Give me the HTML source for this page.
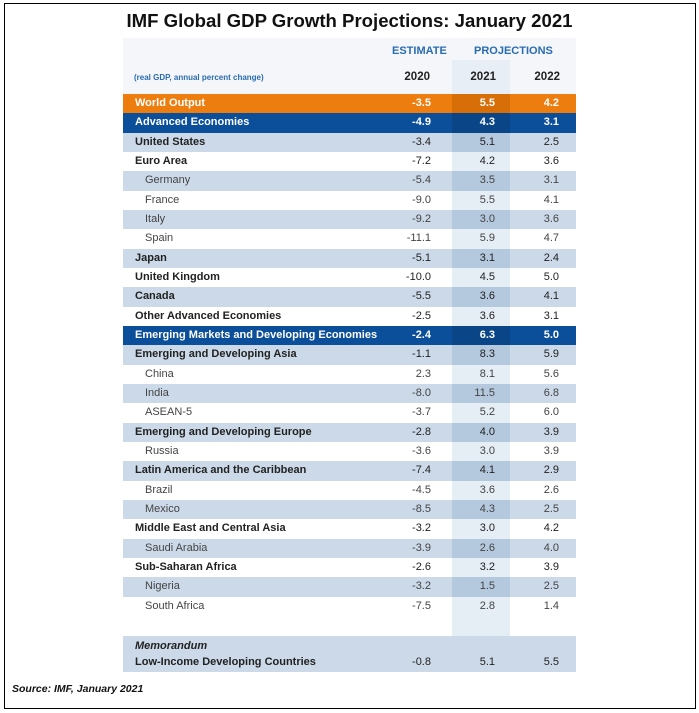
<!DOCTYPE html>
<html><head><meta charset="utf-8">
<style>
body{margin:0;width:699px;height:713px;background:#fff;font-family:"Liberation Sans",sans-serif;position:relative;overflow:hidden}
.frame{position:absolute;left:4px;top:3px;width:690px;height:704px;border:1px solid #000}
.title{position:absolute;left:0;width:699px;top:10px;text-align:center;font-weight:bold;font-size:18.6px;color:#111}
.hdr{position:absolute;font-size:11px;color:#2a6cb0;font-weight:bold}
.yr{position:absolute;font-size:11.5px;font-weight:bold;color:#222;text-align:right;width:50px}
.row{position:absolute;left:123px;width:453px;height:19.4px;font-size:11px;color:#222}
.row span{position:absolute;top:3px}
.num{text-align:right;width:50px}
.band{position:absolute;left:452px;width:58px}
</style></head><body>
<div class="frame"></div>
<div class="title">IMF Global GDP Growth Projections: January 2021</div>
<div style="position:absolute;left:123px;top:38px;width:453px;height:56px;background:#f4f6f9"></div>
<div class="band" style="top:60px;height:34px;background:#e8eef5"></div>
<div class="hdr" style="left:392px;top:45px">ESTIMATE</div>
<div class="hdr" style="left:474px;top:45px">PROJECTIONS</div>
<div style="position:absolute;left:134px;top:73px;font-size:8px;font-weight:bold;color:#2a6cb0">(real GDP, annual percent change)</div>
<div class="yr" style="left:380px;top:71px">2020</div>
<div class="yr" style="left:446px;top:71px">2021</div>
<div class="yr" style="left:510px;top:71px">2022</div>
<div id="tbl"></div>
<div class="band" style="top:616px;height:20px;background:#e5edf5"></div>
<div class="row" style="top:636px;height:36px;background:#cbd9e8">
<span style="left:12px;top:4px;font-style:italic;font-weight:bold">Memorandum</span>
<span style="left:12px;top:20px;font-weight:bold">Low-Income Developing Countries</span>
<span class="num" style="left:258px;top:20px">-0.8</span>
<span class="num" style="left:322px;top:20px">5.1</span>
<span class="num" style="left:386px;top:20px">5.5</span>
</div>
<div style="position:absolute;left:12px;top:683px;font-size:10.5px;font-style:italic;font-weight:bold;color:#111">Source: IMF, January 2021</div>
<script>
const names=["World Output","Advanced Economies","United States","Euro Area","Germany","France","Italy","Spain","Japan","United Kingdom","Canada","Other Advanced Economies","Emerging Markets and Developing Economies","Emerging and Developing Asia","China","India","ASEAN-5","Emerging and Developing Europe","Russia","Latin America and the Caribbean","Brazil","Mexico","Middle East and Central Asia","Saudi Arabia","Sub-Saharan Africa","Nigeria","South Africa"];
const kinds=["world","group","b","b","s","s","s","s","b","b","b","b","group","b","s","s","s","b","s","b","s","s","b","s","b","s","s"];
const v2020=[-3.5,-4.9,-3.4,-7.2,-5.4,-9.0,-9.2,-11.1,-5.1,-10.0,-5.5,-2.5,-2.4,-1.1,2.3,-8.0,-3.7,-2.8,-3.6,-7.4,-4.5,-8.5,-3.2,-3.9,-2.6,-3.2,-7.5];
const v2021=[5.5,4.3,5.1,4.2,3.5,5.5,3.0,5.9,3.1,4.5,3.6,3.6,6.3,8.3,8.1,11.5,5.2,4.0,3.0,4.1,3.6,4.3,3.0,2.6,3.2,1.5,2.8];
const v2022=[4.2,3.1,2.5,3.6,3.1,4.1,3.6,4.7,2.4,5.0,4.1,3.1,5.0,5.9,5.6,6.8,6.0,3.9,3.9,2.9,2.6,2.5,4.2,4.0,3.9,2.5,1.4];
const tbl=document.getElementById('tbl');
const y0=94,rh=19.33;
let alt=0;
names.forEach((n,i)=>{
  const k=kinds[i];
  const r=document.createElement('div');
  r.className='row';
  
  
  r.style.top=(y0+i*rh)+'px';
  let bg='#fff',band='#e5edf5',col='#222',bold=false;
  if(k==='world'){bg='#ed7d0f';band='#d86e08';col='#fff';bold=true;}
  else if(k==='group'){bg='#0b4e9a';band='#0a4588';col='#fff';bold=true;alt=0;}
  else{ if(alt%2===0){bg='#cbd9e8';band='#b4c8de';} alt++; bold=(k==='b'); if(k==='s')col='#444';}
  r.style.background=bg;r.style.color=col;
  const fmt=x=>x.toFixed(1);
  r.innerHTML=`<div class="band" style="left:329px;top:0;height:100%;background:${band}"></div>
<span style="left:${k==='s'?22:12}px;${bold?'font-weight:bold;':''}">${n}</span>
<span class="num" style="left:258px;${k==='world'||k==='group'?'font-weight:bold;':''}">${fmt(v2020[i])}</span>
<span class="num" style="left:322px;${k==='world'||k==='group'?'font-weight:bold;':''}">${fmt(v2021[i])}</span>
<span class="num" style="left:386px;${k==='world'||k==='group'?'font-weight:bold;':''}">${fmt(v2022[i])}</span>`;
  tbl.appendChild(r);
});
</script>
</body></html>
